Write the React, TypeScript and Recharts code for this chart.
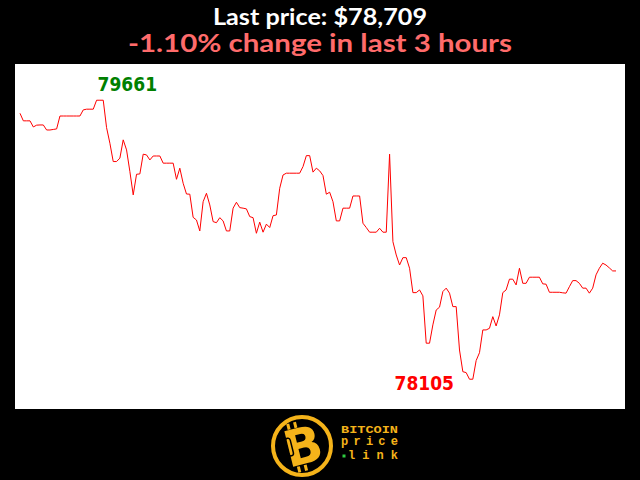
import { LineChart, Line, XAxis, YAxis } from "recharts";

const lastPriceText = "Last price: $78,709";
const changeText = "-1.10% change in last 3 hours";
const logoWords = ["BITCOIN", "price", "link"];

// BTC price, one sample per minute over the last 3 hours
const prices = [
  79588, 79546, 79546, 79546, 79512, 79522, 79523, 79523, 79495, 79495,
  79498, 79501, 79573, 79573, 79573, 79573, 79573, 79573, 79573, 79607,
  79611, 79611, 79611, 79661, 79661, 79661, 79508, 79421, 79319, 79319,
  79338, 79440, 79384, 79263, 79133, 79248, 79250, 79360, 79356, 79328,
  79350, 79350, 79350, 79310, 79310, 79310, 79310, 79220, 79282, 79198,
  79138, 79137, 79008, 78993, 78932, 79095, 79142, 79077, 78984, 78978,
  79006, 78988, 78932, 78932, 79059, 79092, 79062, 79059, 79055, 79012,
  79006, 78919, 78981, 78925, 78970, 78951, 79017, 79021, 79170, 79244,
  79254, 79254, 79254, 79254, 79254, 79291, 79352, 79352, 79260, 79282,
  79267, 79241, 79137, 79148, 79095, 78988, 78988, 79059, 79059, 79059,
  79127, 79127, 79127, 78975, 78951, 78925, 78925, 78925, 78947, 78925,
  78925, 79360, 78872, 78798, 78742, 78783, 78783, 78724, 78588, 78588,
  78603, 78570, 78306, 78306, 78408, 78491, 78507, 78594, 78613, 78585,
  78510, 78510, 78268, 78147, 78142, 78105, 78105, 78209, 78253, 78380,
  78380, 78389, 78454, 78402, 78464, 78588, 78603, 78663, 78663, 78631,
  78724, 78640, 78640, 78674, 78674, 78674, 78674, 78637, 78635, 78590,
  78590, 78590, 78590, 78587, 78585, 78621, 78655, 78655, 78640, 78613,
  78613, 78585, 78613, 78687, 78724, 78752, 78742, 78726, 78709, 78709,
];

const high = Math.max(...prices);
const low = Math.min(...prices);
const highIdx = prices.indexOf(high);
const lowIdx = prices.indexOf(low);

const data = prices.map((price, i) => ({ minute: i, price }));

const GOLD = "#f5b31a";

// draws the high / low numbers next to their points
function ExtremeLabel(props: any) {
  const { cx, cy, index } = props;
  const font = { fontFamily: "DejaVu Sans Condensed", fontWeight: "bold", fontSize: 19 };
  if (index === highIdx) {
    return (
      <text key="hi" x={cx + 1} y={cy - 9.5} fill="#008000" {...font}>
        {high}
      </text>
    );
  }
  if (index === lowIdx) {
    return (
      <text key="lo" x={cx - 15.5} y={cy + 11} fill="#ff0000" textAnchor="end" {...font}>
        {low}
      </text>
    );
  }
  return <g key={`d${index}`} />;
}

export default function App() {
  return (
    <div style={{ position: "absolute", left: 0, top: 0, width: 640, height: 480, background: "#000" }}>
      <svg width={640} height={480} style={{ position: "absolute", left: 0, top: 0 }}>
        <text x={320} y={24.5} textAnchor="middle" fill="#fff" fontFamily="Lato" fontWeight="bold"
          fontSize={22} textLength={214} lengthAdjust="spacingAndGlyphs">
          {lastPriceText}
        </text>
        <text x={320} y={51.7} textAnchor="middle" fill="#ff6b6b" fontFamily="Lato" fontWeight="bold"
          fontSize={24} textLength={384} lengthAdjust="spacingAndGlyphs">
          {changeText}
        </text>

        {/* logo */}
        <circle cx={302} cy={446} r={29} fill="#000" stroke={GOLD} strokeWidth={4} />
        <g transform="rotate(-14 302 446)">
          <rect x={292} y={421} width={3} height={6} fill={GOLD} />
          <rect x={299} y={421} width={3} height={6} fill={GOLD} />
          <rect x={292} y={465} width={3} height={6} fill={GOLD} />
          <rect x={299} y={465} width={3} height={6} fill={GOLD} />
          <text x={303} y={464} textAnchor="middle" fill={GOLD} fontFamily="DejaVu Sans" fontWeight="bold" fontSize={50}>
            B
          </text>
          <rect x={287} y={435} width={5} height={18} rx={2.5} fill="none" stroke="#000" strokeWidth={1.5} />
        </g>
        <text x={341} y={432.5} fill={GOLD} fontFamily="Liberation Mono" fontWeight="bold" fontSize={11}
          textLength={57} lengthAdjust="spacingAndGlyphs">
          {logoWords[0]}
        </text>
        <text x={341} y={445} fill={GOLD} fontFamily="Liberation Mono" fontWeight="bold" fontSize={12}
          textLength={57} lengthAdjust="spacing">
          {logoWords[1]}
        </text>
        <rect x={342.5} y={454.5} width={3} height={3} fill="#2ecc40" />
        <text x={348} y={459} fill={GOLD} fontFamily="Liberation Mono" fontWeight="bold" fontSize={12}
          textLength={50} lengthAdjust="spacing">
          {logoWords[2]}
        </text>
      </svg>

      <div style={{ position: "absolute", left: 15, top: 64, width: 610, height: 345, background: "#fff" }}>
        <LineChart width={610} height={345} data={data} margin={{ top: 0, right: 9, bottom: 0, left: 5 }}>
          <XAxis dataKey="minute" hide />
          <YAxis hide domain={[77939, 79863]} />
          <Line
            type="linear"
            dataKey="price"
            stroke="#ff0000"
            strokeWidth={1}
            dot={ExtremeLabel}
            activeDot={false}
            isAnimationActive={false}
          />
        </LineChart>
      </div>
    </div>
  );
}
